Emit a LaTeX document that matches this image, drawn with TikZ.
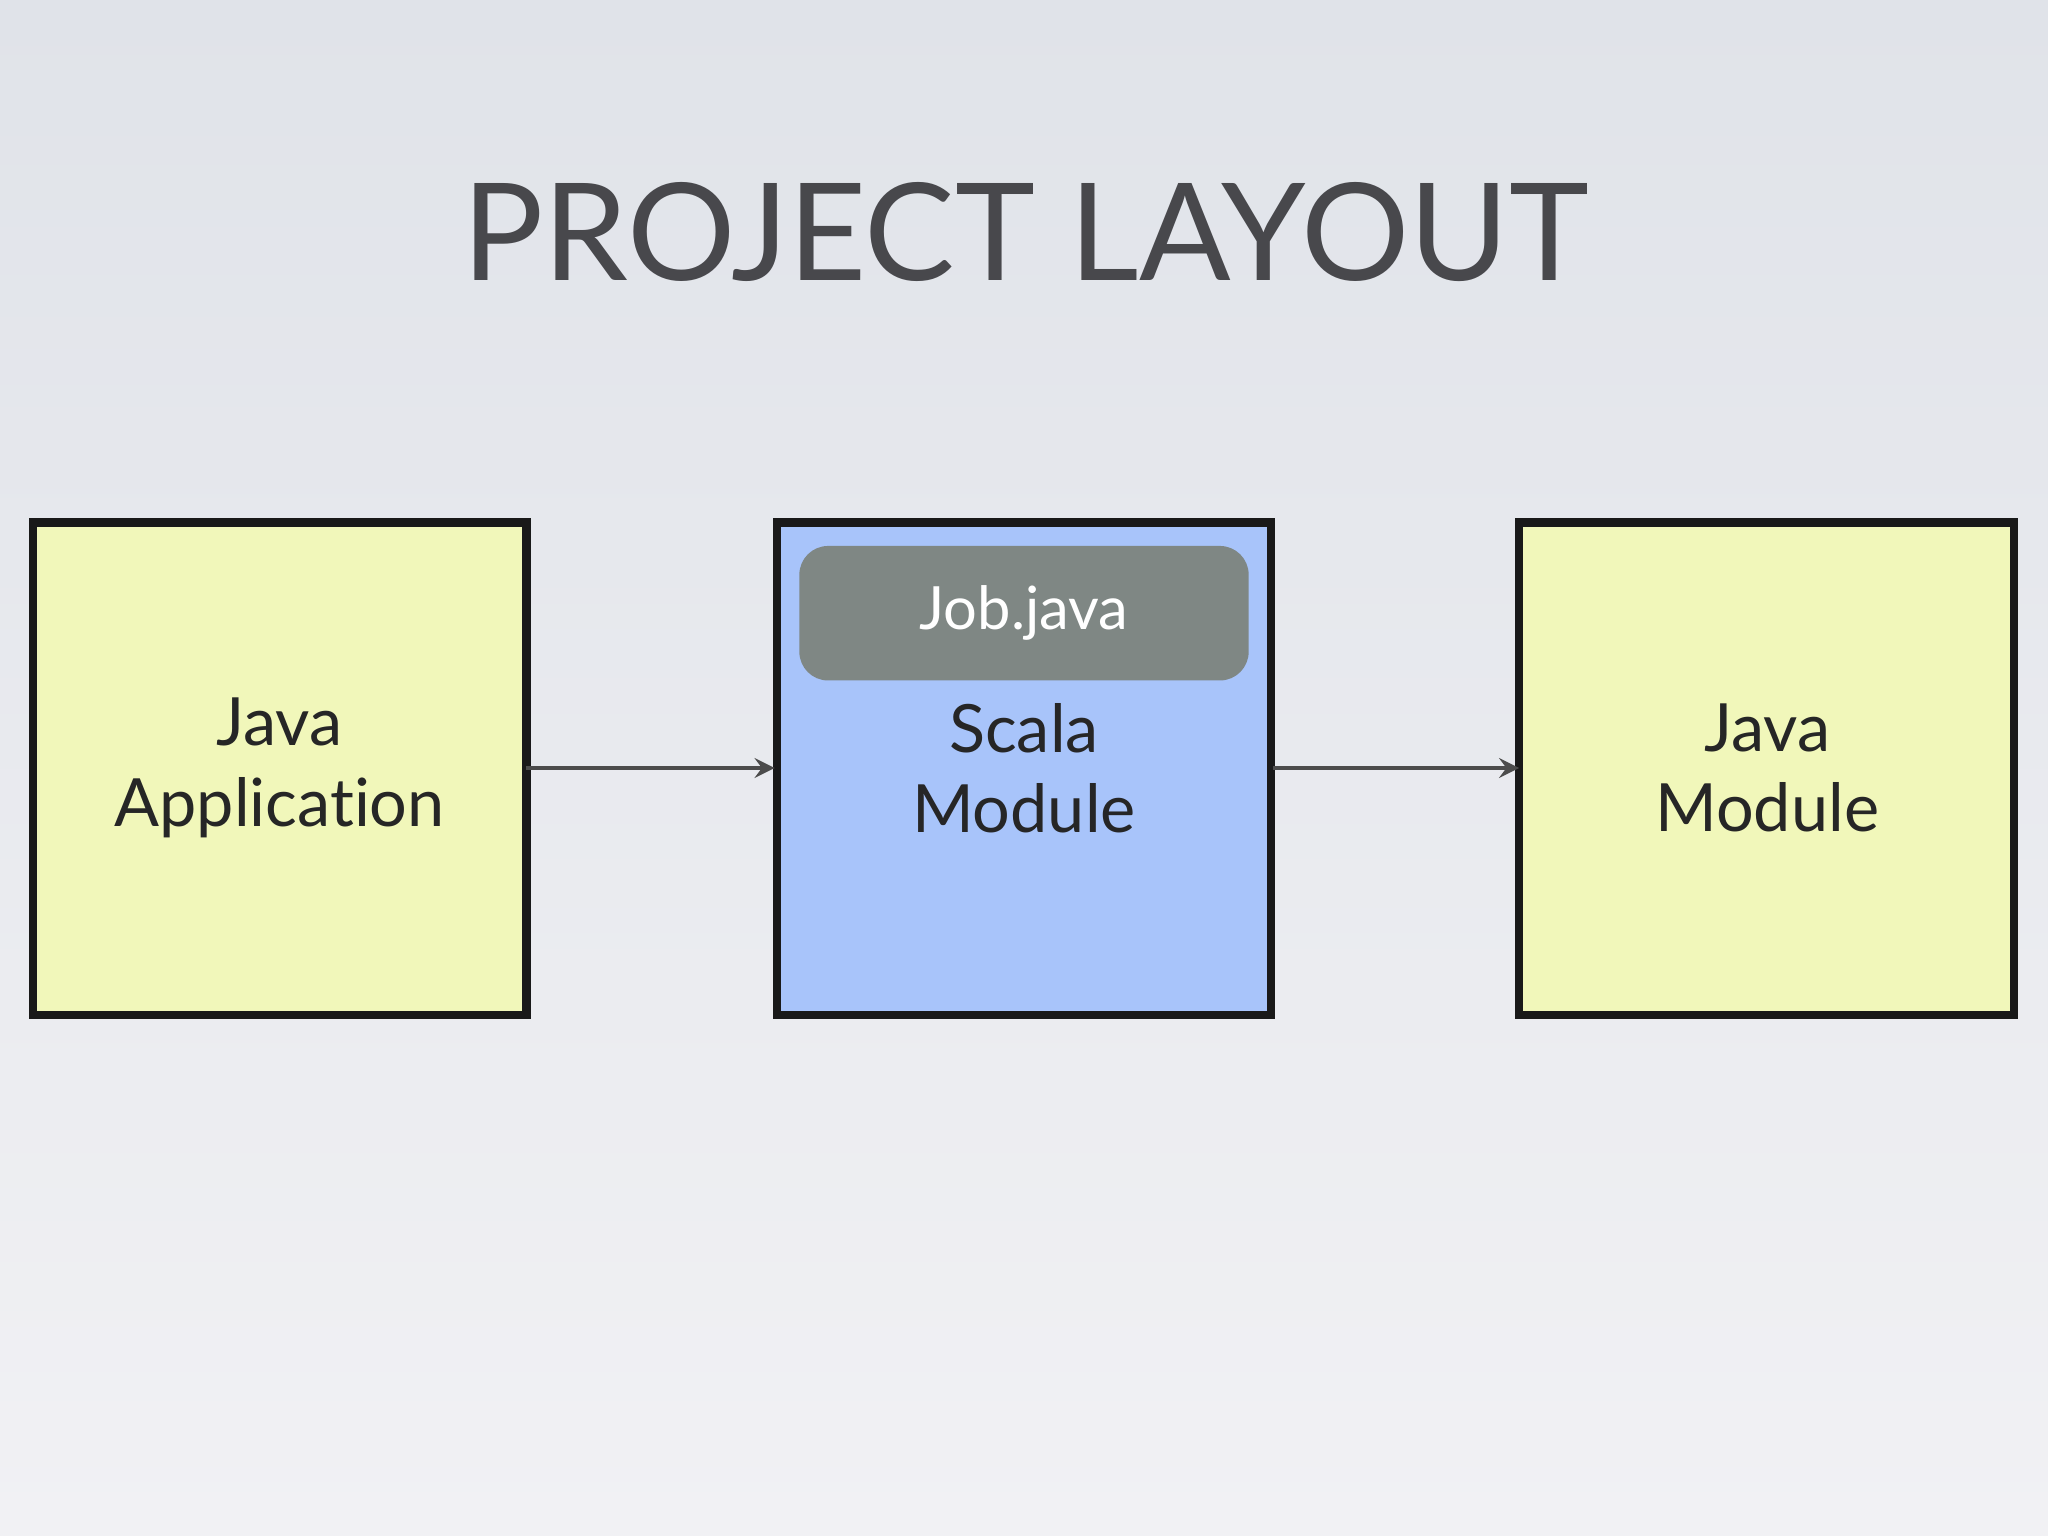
\documentclass[tikz,border=0pt]{standalone}
\usepackage{fontspec}
\setmainfont{Lato}[Ligatures=NoCommon]
\begin{document}
\begin{tikzpicture}[y=-1cm,
  box/.style={draw=black!90, line width=1.8pt},
  lbl/.style={font=\fontsize{14.5}{17.5}\selectfont, align=center, text=black!85},
  arr/.style={draw=black!70, line width=0.9pt, -stealth}]
\shade[top color={rgb,255:red,224;green,227;blue,233}, bottom color={rgb,255:red,241;green,241;blue,244}] (0,0) rectangle (15.68,11.76);
\useasboundingbox (0,0) rectangle (15.68,11.76);
\node[font=\fontsize{29.5}{33}\selectfont, text={rgb,255:red,72;green,72;blue,76}] (title) at (7.85,1.78) {PROJECT LAYOUT};
\path[box, fill={rgb,255:red,241;green,247;blue,186}] (0.25,4.0) rectangle (4.03,7.77);
\coordinate (aR) at (4.03,5.88);
\path[box, fill={rgb,255:red,168;green,196;blue,250}] (5.95,4.0) rectangle (9.73,7.77);
\coordinate (bL) at (5.93,5.88);
\coordinate (bR) at (9.75,5.88);
\path[box, fill={rgb,255:red,241;green,247;blue,186}] (11.63,4.0) rectangle (15.42,7.77);
\coordinate (cL) at (11.63,5.88);
\node[lbl] (t1) at (2.14,5.88) {Java\\Application};
\node[lbl] (t2) at (7.84,5.88) {Scala\\Module};
\node[lbl] (t3) at (13.53,5.88) {Java\\Module};
\node[fill={rgb,255:red,127;green,135;blue,132}, rounded corners=0.22cm, minimum width=3.44cm, minimum height=1.03cm, text=white, font=\fontsize{13}{16}\selectfont] (job) at (7.84,4.695) {\raisebox{-0.6mm}{Job.java}};
\draw[arr] (aR) -- (bL);
\draw[arr] (bR) -- (cL);
\end{tikzpicture}
\end{document}
